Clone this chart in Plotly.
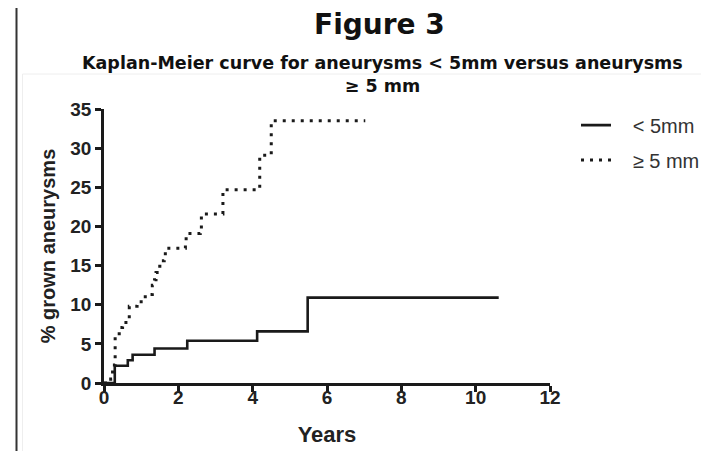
import plotly.graph_objects as go

# ---- data ----
lt5_years = [0, 0.29, 0.64, 0.77, 1.36, 2.24, 4.12, 5.48, 10.62]
lt5_pct = [0, 2.2, 2.9, 3.6, 4.4, 5.4, 6.6, 10.9, 10.9]

ge5_years = [0, 0.18, 0.23, 0.28, 0.30, 0.41, 0.50, 0.59, 0.68, 0.89, 1.00, 1.11,
             1.30, 1.36, 1.40, 1.50, 1.55, 1.62, 1.65, 2.19, 2.21, 2.59, 2.62,
             3.20, 4.19, 4.50, 7.03]
ge5_pct = [0, 0.5, 1.4, 2.3, 6.3, 7.1, 7.5, 8.1, 9.8, 10.0, 10.6, 11.3,
           12.5, 13.2, 14.1, 14.9, 15.6, 16.3, 17.2, 18.0, 19.1, 19.3, 21.6,
           24.7, 29.1, 33.5, 33.5]

series_names = ["< 5mm", "\u2265 5 mm"]
x_ticks = [0, 2, 4, 6, 8, 10, 12]
y_ticks = [0, 5, 10, 15, 20, 25, 30, 35]

NBSP = "\u00a0"
ARIAL = "Liberation Sans, Arial, sans-serif"
VERDANA = "DejaVu Sans, Verdana, sans-serif"

fig = go.Figure()
fig.add_trace(go.Scatter(
    x=lt5_years, y=lt5_pct, mode="lines", line_shape="hv",
    name=NBSP * 3 + series_names[0], legendgroup="a",
    line=dict(color="#1a1a1a", width=2.6),
))
fig.add_trace(go.Scatter(
    x=ge5_years, y=ge5_pct, mode="lines", line_shape="hv",
    name=NBSP * 3 + series_names[1], legendgroup="b",
    line=dict(color="#1a1a1a", width=3, dash="3px,6px"),
))

tick_font = dict(family=ARIAL, size=19, color="#222222", weight="bold")

# The page adds an 8 px body margin, so the figure starts at (8, 8) on the
# page; page coordinates are converted with px()/py() below.
fig.update_layout(
    width=709, height=451,
    margin=dict(l=96, r=167, t=101, b=76),
    paper_bgcolor="white", plot_bgcolor="white",
    showlegend=True,
    legend=dict(
        x=1.0583, y=1.0124, xanchor="left", yanchor="top",
        font=dict(family=ARIAL, size=20, color="#333333"),
        bgcolor="rgba(0,0,0,0)", tracegroupgap=6, itemwidth=30,
    ),
    xaxis=dict(
        range=[0, 12], tickvals=x_ticks, ticktext=[str(v) for v in x_ticks],
        showline=True, linecolor="#1a1a1a", linewidth=2.5,
        ticks="outside", ticklen=6, tickwidth=2.5, tickcolor="#1a1a1a",
        showgrid=False, zeroline=False, tickfont=tick_font, ticklabelstandoff=-11,
        automargin=False,
        title=dict(text="<b>Years</b>", font=dict(family=ARIAL, size=22, color="#222222"), standoff=21),
    ),
    yaxis=dict(
        range=[0, 35], tickvals=y_ticks, ticktext=[str(v) for v in y_ticks],
        showline=True, linecolor="#1a1a1a", linewidth=2.5,
        ticks="outside", ticklen=6, tickwidth=2.5, tickcolor="#1a1a1a",
        showgrid=False, zeroline=False, tickfont=tick_font,
        automargin=False,
        title=dict(text="<b>% grown aneurysms</b>", font=dict(family=ARIAL, size=20, color="#222222"), standoff=10),
    ),
)


def px(xp):
    return (xp - 104) / 446


def py(yp):
    return (383 - yp) / 274


# titles
fig.add_annotation(
    text="<b>Figure 3</b>", xref="paper", yref="paper",
    x=px(379), y=py(25), xanchor="center", yanchor="middle",
    showarrow=False, font=dict(family=VERDANA, size=28, color="#111111"),
)
fig.add_annotation(
    text="<b>Kaplan-Meier curve for aneurysms &lt; 5mm versus aneurysms</b><br><b>\u2265 5 mm</b>",
    xref="paper", yref="paper",
    x=px(382), y=py(74), xanchor="center", yanchor="middle",
    showarrow=False, font=dict(family=VERDANA, size=17.5, color="#111111"),
    align="center",
)

# page frame elements
fig.add_shape(type="line", xref="paper", yref="paper", x0=px(16.5), x1=px(16.5), y0=py(0), y1=py(460),
              line=dict(color="#333333", width=2))
fig.add_shape(type="line", xref="paper", yref="paper", x0=px(22.5), x1=px(22.5), y0=py(74), y1=py(460),
              line=dict(color="#eeeeee", width=1), layer="below")
fig.add_shape(type="line", xref="paper", yref="paper", x0=px(22.5), x1=px(720), y0=py(74), y1=py(74),
              line=dict(color="#eeeeee", width=1), layer="below")

fig.write_html("out.html")
